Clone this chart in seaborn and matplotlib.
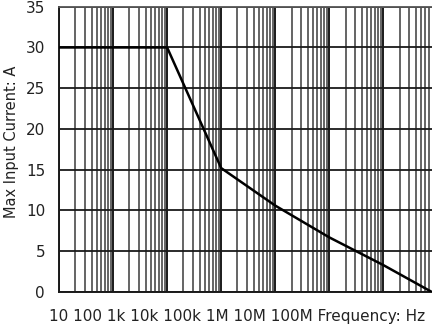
import matplotlib
matplotlib.use("Agg")
import matplotlib.pyplot as plt
import seaborn as sns
import pandas as pd
import numpy as np
from matplotlib.ticker import LogLocator, NullFormatter

frequency_hz = [10, 1e3, 1e4, 1e5, 1e6, 1e7, 7.9e7]
max_current_a = [30, 30, 15.2, 10.6, 6.7, 3.3, 0.0]
y_ticks = [0, 5, 10, 15, 20, 25, 30, 35]
x_label_text = "10 100 1k 10k 100k 1M 10M 100M Frequency: Hz"
y_label_text = "Max Input Current: A"

sns.set_style("white")
plt.rcParams['font.family'] = ['DejaVu Sans']

df = pd.DataFrame({"freq": frequency_hz, "current": max_current_a})

fig = plt.figure(figsize=(4.32, 3.30), dpi=100)
ax = fig.add_axes([59/432, 1-292/330, 1-59/432, (292-6.7)/330])

ax.set_xscale("log")
ax.set_xlim(10, 10**7.9)
ax.set_ylim(0, 35)

ax.xaxis.set_major_locator(LogLocator(base=10, numticks=20))
ax.xaxis.set_minor_locator(LogLocator(base=10, subs=np.arange(2, 10), numticks=100))
ax.xaxis.set_major_formatter(NullFormatter())
ax.xaxis.set_minor_formatter(NullFormatter())
ax.set_yticks(y_ticks)

ax.grid(True, which="major", axis="x", color="#1a1a1a", linewidth=1.4)
ax.grid(True, which="minor", axis="x", color="#4a4a4a", linewidth=1.2)
ax.grid(True, which="major", axis="y", color="#1a1a1a", linewidth=1.3)
ax.set_axisbelow(True)

sns.lineplot(data=df, x="freq", y="current", ax=ax, color="black", linewidth=1.8, zorder=5)

ax.tick_params(axis="both", which="both", length=0)
ax.tick_params(axis="y", pad=10, labelsize=11, labelcolor="#222222")
ax.set_xlabel("")
ax.set_ylabel("")

for side in ["left", "bottom"]:
    ax.spines[side].set_color("#1a1a1a")
    ax.spines[side].set_linewidth(1.4)
ax.spines["top"].set_color("#555555")
ax.spines["top"].set_linewidth(1.3)
ax.spines["right"].set_visible(False)

fig.text(12/432, 1-142/330, y_label_text, rotation=90, ha="center", va="center",
         fontsize=10.5, color="#222222")
fig.text(237/432, 1-317/330, x_label_text, ha="center", va="center", fontsize=11, color="#222222")

fig.savefig("out.png", dpi=100)
